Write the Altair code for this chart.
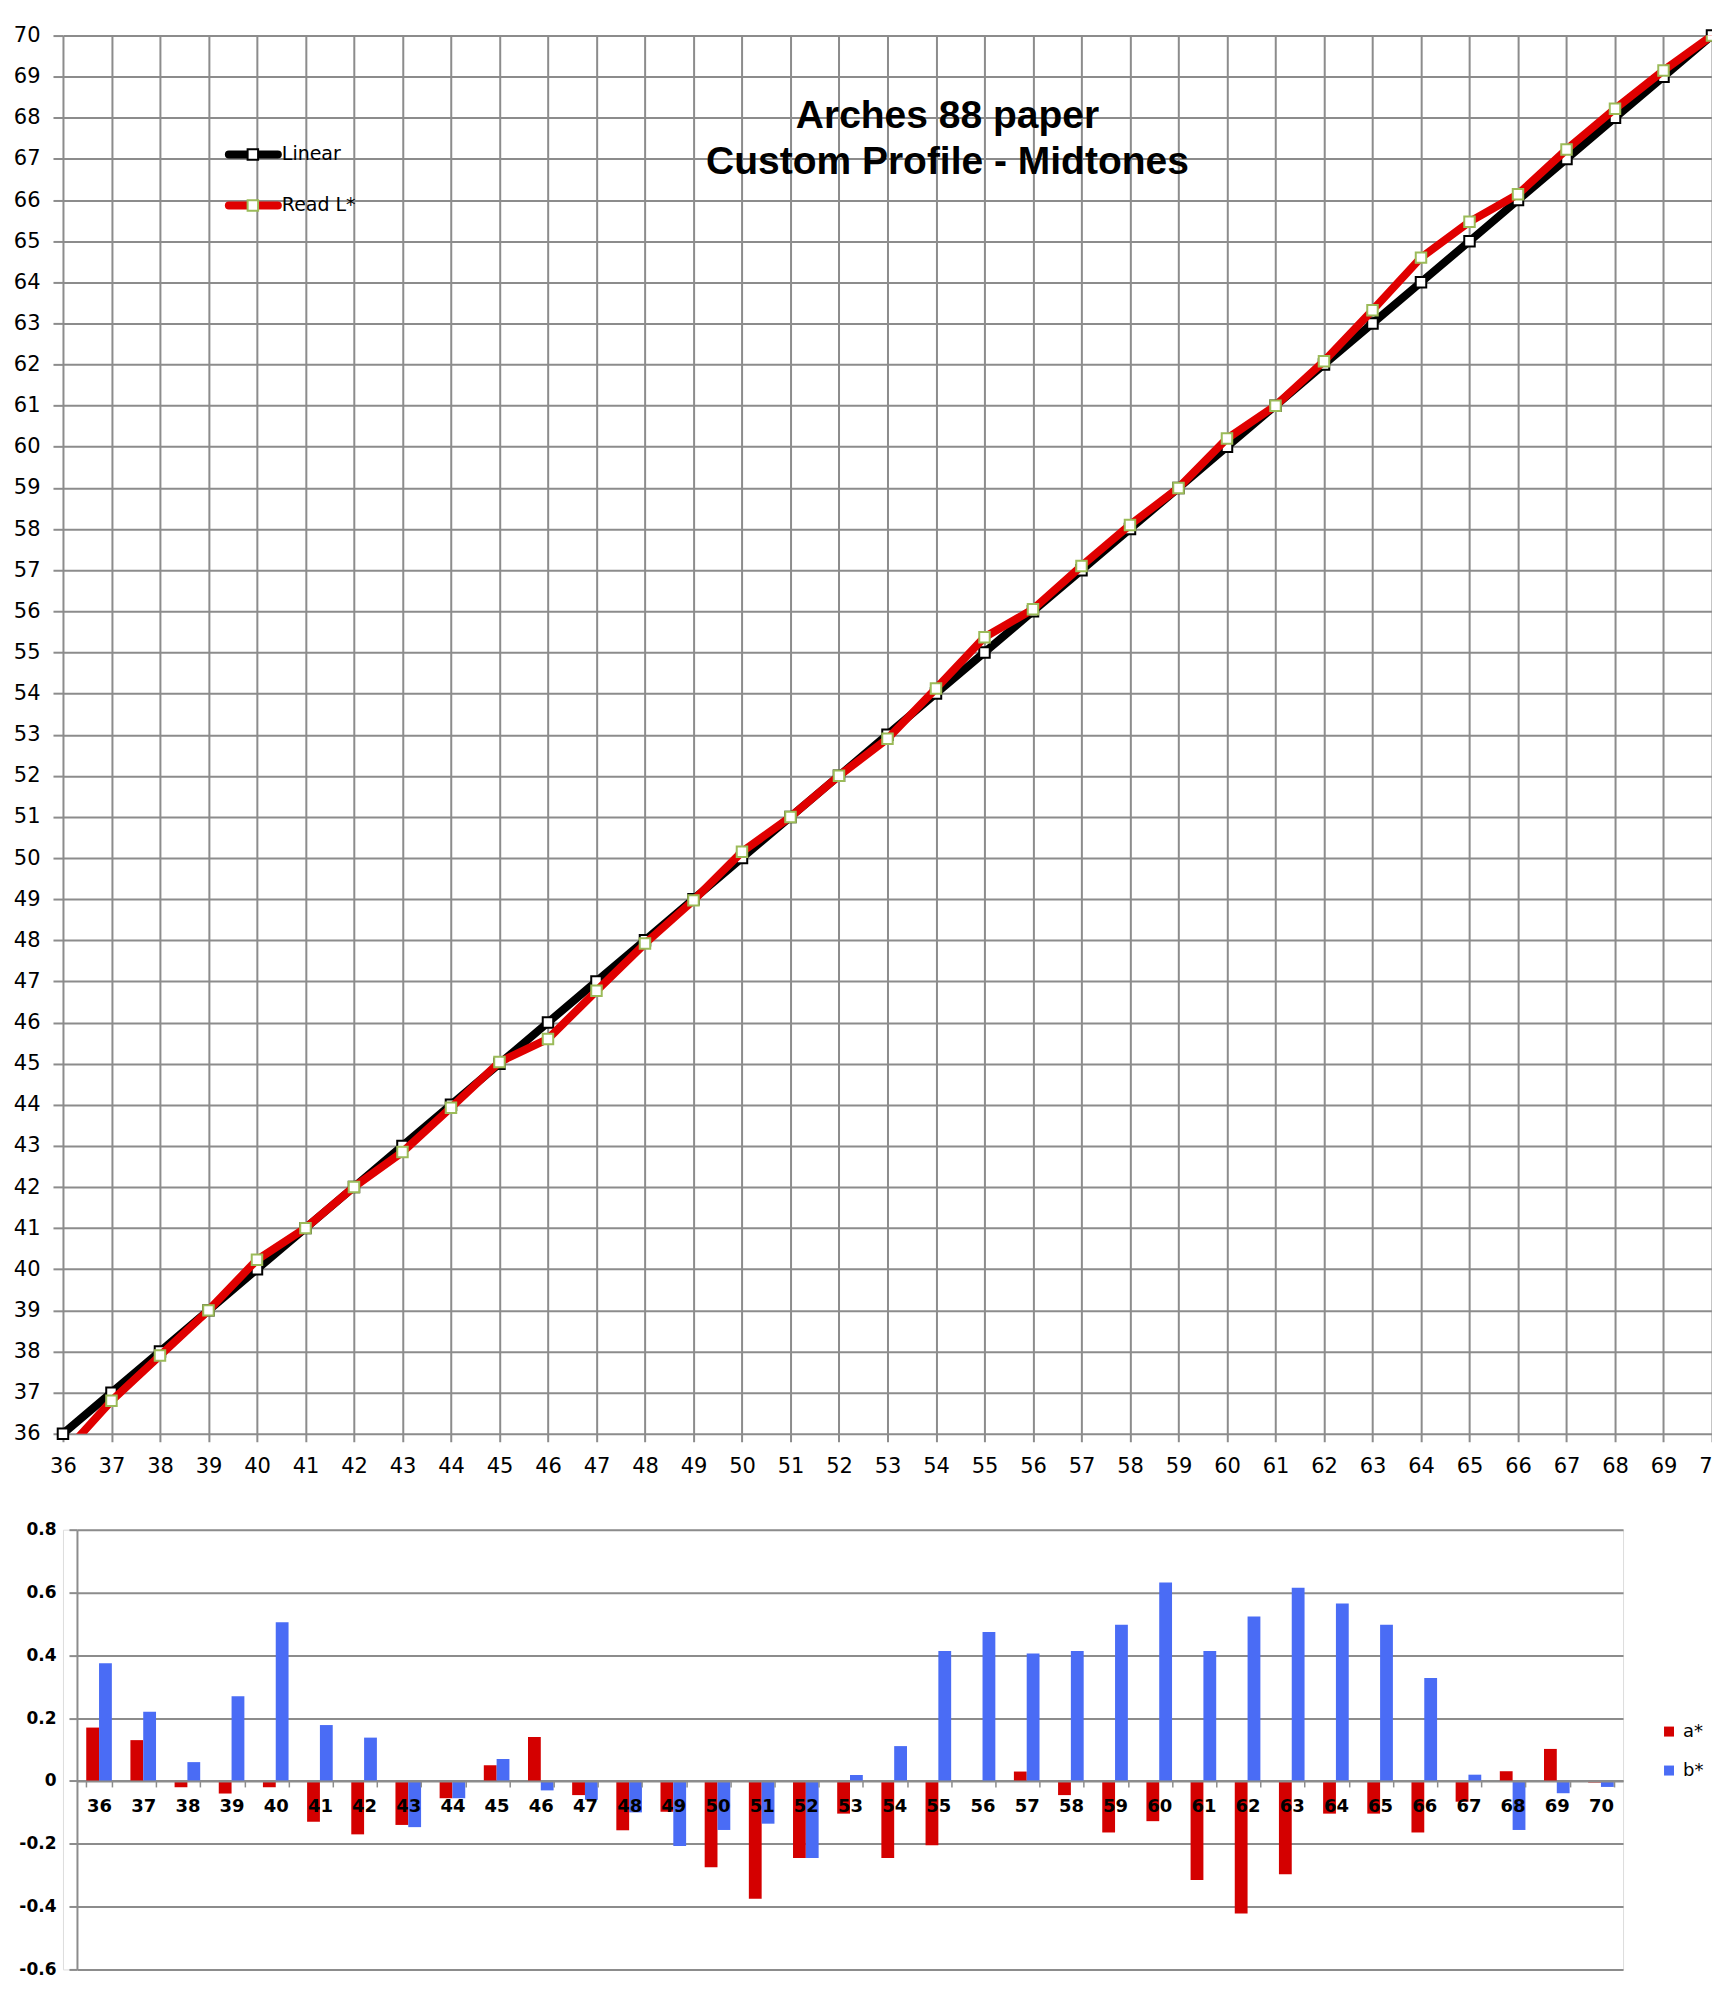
import altair as alt
import pandas as pd

# ---------------- data ----------------
steps = list(range(36, 71))
linear = [36, 37, 38, 39, 40, 41, 42, 43, 44, 45, 46, 47, 48, 49, 50, 51, 52,
          53, 54, 55, 56, 57, 58, 59, 60, 61, 62, 63, 64, 65, 66, 67, 68, 69, 70]
read_l = [35.5, 36.8, 37.9, 39.0, 40.23, 41.0, 42.0, 42.85, 43.93, 45.04,
          45.6, 46.77, 47.92, 48.97, 50.15, 51.0, 52.0, 52.9, 54.12, 55.37,
          56.05, 57.1, 58.1, 59.0, 60.2, 61.0, 62.08, 63.32, 64.6, 65.47,
          66.14, 67.23, 68.22, 69.15, 70.0]
a_star = [0.17, 0.13, -0.02, -0.04, -0.02, -0.13, -0.17, -0.14, -0.055, 0.05,
          0.14, -0.045, -0.157, -0.098, -0.275, -0.375, -0.245, -0.104, -0.245,
          -0.205, 0.0, 0.03, -0.045, -0.164, -0.128, -0.315, -0.422, -0.297,
          -0.104, -0.104, -0.164, -0.066, 0.031, 0.102, -0.005]
b_star = [0.375, 0.22, 0.06, 0.27, 0.505, 0.178, 0.138, -0.147, -0.055, 0.07,
          -0.03, -0.06, -0.10, -0.207, -0.156, -0.136, -0.245, 0.019, 0.111,
          0.414, 0.474, 0.406, 0.414, 0.497, 0.632, 0.414, 0.524, 0.615, 0.565,
          0.497, 0.328, 0.02, -0.156, -0.039, -0.019]
series_names = ["Linear", "Read L*"]
channel_names = ["a*", "b*"]
title_lines = ["Arches 88 paper", "Custom Profile - Midtones"]
bar_ticks = [-0.6, -0.4, -0.2, 0, 0.2, 0.4, 0.6, 0.8]

GRID = "#8c8c8c"
RED = "#e00000"

# ---------------- top: L* curve ----------------
lin_df = pd.DataFrame({"step": steps, "value": linear})
read_df = pd.DataFrame({"step": steps, "value": read_l})
one = pd.DataFrame({"k": [0]})

xs = alt.Scale(domain=[36, 70], nice=False, zero=False)
ys = alt.Scale(domain=[36, 70], nice=False, zero=False)
x_axis = alt.Axis(values=steps, format="d", title=None, grid=True, gridColor=GRID,
                  gridWidth=2, gridOpacity=1, domain=False, tickColor=GRID,
                  tickWidth=2, tickSize=8, labelFont="DejaVu Sans",
                  labelFontSize=21, labelColor="#000", labelPadding=14,
                  labelOverlap=False, labelFlush=False)
y_axis = alt.Axis(values=steps, format="d", title=None, grid=True, gridColor=GRID,
                  gridWidth=2, gridOpacity=1, domain=False, tickColor=GRID,
                  tickWidth=2, tickSize=10, labelFont="DejaVu Sans",
                  labelFontSize=21, labelColor="#000", labelPadding=13,
                  labelOverlap=False, labelFlush=False)

def enc(df):
    return alt.Chart(df).encode(
        x=alt.X("step:Q", scale=xs, axis=x_axis),
        y=alt.Y("value:Q", scale=ys, axis=y_axis),
    )

line_lin = enc(lin_df).mark_line(color="black", strokeWidth=8, clip=True)
pts_lin = enc(lin_df).mark_square(fill="white", stroke="black", strokeWidth=2,
                                 size=110, opacity=1)
line_read = enc(read_df).mark_line(color=RED, strokeWidth=8, clip=True)
pts_read = enc(read_df).mark_square(fill="white", stroke="#9bbb59", strokeWidth=2,
                                   size=110, opacity=1, clip=True)

def title_line(txt, ypix):
    return alt.Chart(one).mark_text(font="Liberation Sans", fontWeight="bold",
                                    fontSize=39, align="center", baseline="middle",
                                    color="black").encode(
        x=alt.value(885), y=alt.value(ypix), text=alt.value(txt))

def legend_item(name, color, stroke, ypix):
    ln = alt.Chart(one).mark_rule(color=color, strokeWidth=8, strokeCap="round").encode(
        x=alt.value(166), x2=alt.value(215), y=alt.value(ypix))
    sq = alt.Chart(one).mark_square(fill="white", stroke=stroke, strokeWidth=2,
                                    size=110, opacity=1).encode(
        x=alt.value(190), y=alt.value(ypix))
    tx = alt.Chart(one).mark_text(font="DejaVu Sans", fontSize=19, align="left",
                                  baseline="middle", color="black").encode(
        x=alt.value(219), y=alt.value(ypix), text=alt.value(name))
    return [ln, sq, tx]

top = alt.layer(
    line_lin, pts_lin, line_read, pts_read,
    title_line(title_lines[0], 80), title_line(title_lines[1], 127),
    *legend_item(series_names[0], "black", "black", 119),
    *legend_item(series_names[1], RED, "#9bbb59", 170),
).properties(width=1650, height=1399)

# ---------------- bottom: a*, b* bars ----------------
bar_df = pd.DataFrame({
    "step": steps * 2,
    "value": a_star + b_star,
    "channel": [channel_names[0]] * len(steps) + [channel_names[1]] * len(steps),
})

bottom = alt.Chart(bar_df).mark_bar().encode(
    x=alt.X("step:O",
            scale=alt.Scale(range=[14, 1561], paddingInner=0.42, paddingOuter=0.21),
            axis=alt.Axis(title=None, offset=-188.6, zindex=1, domainColor=GRID,
                          domainWidth=2, tickColor=GRID, tickWidth=1.5, tickSize=6,
                          tickBand="extent", labelAngle=0, labelFont="DejaVu Sans",
                          labelFontWeight="bold", labelFontSize=18, labelColor="#000",
                          labelPadding=11)),
    xOffset=alt.XOffset("channel:N", scale=alt.Scale(domain=channel_names)),
    y=alt.Y("value:Q", scale=alt.Scale(domain=[-0.6, 0.8], nice=False, zero=False),
            axis=alt.Axis(title=None, values=bar_ticks, labelExpr="datum.value + ''",
                          offset=-14, grid=True, gridColor=GRID, gridWidth=2,
                          gridOpacity=1, domainColor=GRID, domainWidth=2,
                          tickColor=GRID, tickWidth=2, tickSize=8,
                          labelFont="DejaVu Sans", labelFontWeight="bold",
                          labelFontSize=17, labelColor="#000", labelPadding=13)),
    color=alt.Color("channel:N",
                    scale=alt.Scale(domain=channel_names, range=["#d40000", "#4a6cf5"]),
                    legend=alt.Legend(title=None, orient="none", legendX=1598,
                                      legendY=1688, symbolType="square",
                                      symbolSize=100, symbolStrokeWidth=0,
                                      labelFont="DejaVu Sans", labelFontSize=18,
                                      labelColor="#000", labelOffset=5,
                                      rowPadding=21)),
).properties(width=1561, height=440)

chart = alt.vconcat(top, bottom, spacing=42).properties(
    padding={"top": 15, "left": 4, "right": -14, "bottom": 0}
).configure_view(strokeWidth=0).configure(background="white")

chart.save("out.html", embed_options={"renderer": "svg", "actions": False})
